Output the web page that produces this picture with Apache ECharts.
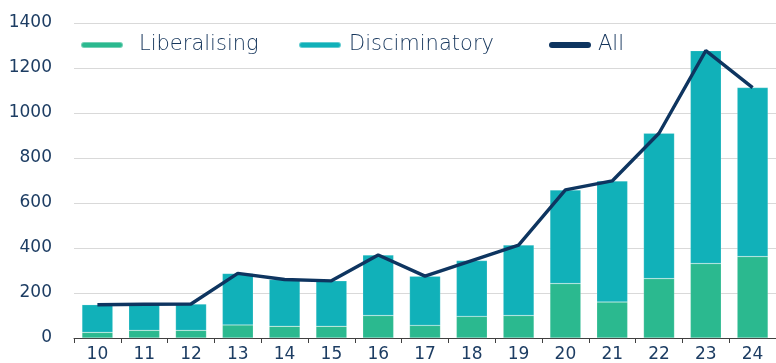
<!DOCTYPE html>
<html>
<head>
<meta charset="utf-8">
<script src="https://cdn.jsdelivr.net/npm/echarts@6/dist/echarts.min.js"></script>
<style>
  html, body { margin: 0; padding: 0; background: #fff; }
  #chart { width: 776px; height: 363px; }
</style>
</head>
<body>
<div id="chart"></div>
<script>
// Year labels (20xx)
const years = ['10', '11', '12', '13', '14', '15', '16', '17', '18', '19', '20', '21', '22', '23', '24'];
// Liberalising measures
const liberalising = [25, 34, 34, 58, 52, 52, 100, 56, 96, 100, 242, 160, 264, 331, 362];
// Discriminatory measures
const discriminatory = [123, 116, 117, 229, 208, 202, 269, 219, 248, 313, 416, 538, 646, 946, 751];
// All measures
const allMeasures = [148, 150, 151, 287, 260, 254, 369, 275, 344, 413, 658, 698, 910, 1277, 1113];

const yTicks = { min: 0, max: 1400, interval: 200 };

const C_LIB = '#2bb98f';
const C_DISC = '#11b1b9';
const C_ALL = '#0e3560';
const TEXT = '#1d3d63';
const LEGEND_TEXT = '#15355b';
const FONT = '"DejaVu Sans", sans-serif';
// Pill-shaped legend marker (rounded line)
const PILL = 'path://M3,0 L39,0 A3,3 0 0 1 39,6 L3,6 A3,3 0 0 1 3,0 Z';

const chart = echarts.init(document.getElementById('chart'));

function legendAt(left, name, gap) {
  return {
    left: left,
    top: 29,
    itemWidth: 42,
    itemHeight: 6,
    icon: PILL,
    data: [name],
    textStyle: {
      fontFamily: FONT, fontSize: 21, fontWeight: 200, color: LEGEND_TEXT,
      lineHeight: 22, padding: [0, 0, 0, gap]
    }
  };
}

chart.setOption({
  animation: false,
  textStyle: { fontFamily: FONT },
  legend: [
    legendAt(75, 'Liberalising', 11),
    legendAt(293, 'Disciminatory', 3),
    legendAt(544, 'All', 2)
  ],
  grid: { left: 74, right: -10, top: 23, bottom: 24, containLabel: false },
  xAxis: {
    type: 'category',
    data: years,
    boundaryGap: true,
    axisLine: { show: true, lineStyle: { color: '#404040', width: 1 } },
    axisTick: { show: true, alignWithLabel: false, length: 5, lineStyle: { color: '#404040' } },
    axisLabel: { color: TEXT, fontSize: 17, fontFamily: FONT, margin: 8 }
  },
  yAxis: {
    type: 'value',
    min: yTicks.min,
    max: yTicks.max,
    interval: yTicks.interval,
    axisLine: { show: false },
    axisTick: { show: false },
    splitLine: { lineStyle: { color: '#d9d9d9', width: 1 } },
    axisLabel: { color: TEXT, fontSize: 17, fontFamily: FONT, margin: 22, formatter: v => String(v) }
  },
  series: [
    {
      name: 'Liberalising',
      type: 'bar',
      stack: 'm',
      data: liberalising,
      barWidth: '66%',
      itemStyle: { color: C_LIB, borderColor: 'rgba(255,255,255,0.35)', borderWidth: 0.5 }
    },
    {
      name: 'Disciminatory',
      type: 'bar',
      stack: 'm',
      data: discriminatory,
      barWidth: '66%',
      itemStyle: { color: C_DISC, borderColor: 'rgba(255,255,255,0.35)', borderWidth: 0.5 }
    },
    {
      name: 'All',
      type: 'line',
      data: allMeasures,
      symbol: 'none',
      lineStyle: { color: C_ALL, width: 3.4 },
      itemStyle: { color: C_ALL },
      z: 5
    }
  ]
});
</script>
</body>
</html>
